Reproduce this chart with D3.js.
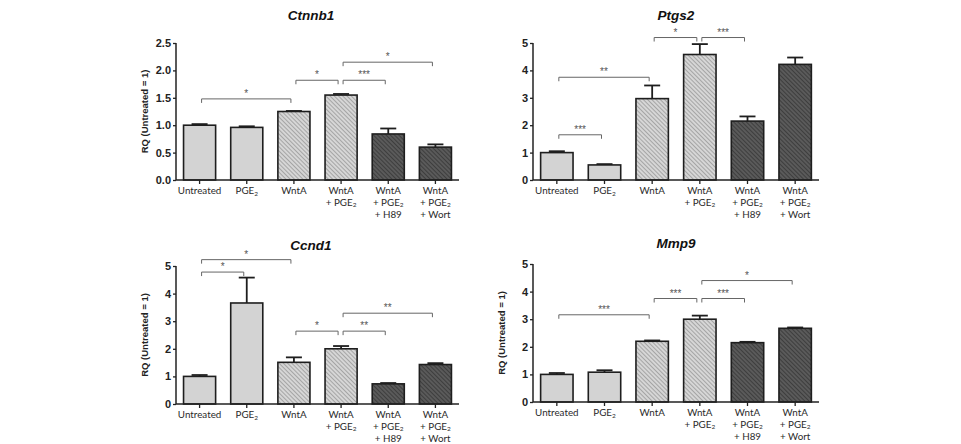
<!DOCTYPE html>
<html>
<head>
<meta charset="utf-8">
<script src="https://cdn.jsdelivr.net/npm/d3@7"></script>
<style>
  body { margin: 0; background: #fff; }
  .tick text { font-family: "Liberation Sans", Arial, sans-serif; font-weight: bold; font-size: 11px; fill: #222; }
  .xlab { font-family: Lato, sans-serif; font-size: 9.8px; fill: #2a2a2a; }
  .title { font-family: "Liberation Sans", Arial, sans-serif; font-weight: bold; font-style: italic; font-size: 13.5px; fill: #111; }
  .ylab { font-family: "Liberation Sans", Arial, sans-serif; font-weight: bold; font-size: 9.5px; fill: #222; }
  .star { font-family: "Liberation Sans", Arial, sans-serif; font-size: 10px; fill: #555; }
</style>
</head>
<body>
<script>
var w = 961;
var h = 444;

// categories (lines of each x label)
var categories = ["Untreated", "PGE2", "WntA", "WntA+PGE2", "WntA+PGE2+H89", "WntA+PGE2+Wort"];
var catLines = [
  ["Untreated"],
  ["PGE_2"],
  ["WntA"],
  ["WntA", "+ PGE_2"],
  ["WntA", "+ PGE_2", "+ H89"],
  ["WntA", "+ PGE_2", "+ Wort"]
];
var fills = ["light", "light", "hatchLight", "hatchLight", "hatchDark", "hatchDark"];

// values (mean, mean + error)
var ctnnb1    = [1.00, 0.96, 1.25, 1.55, 0.84, 0.60];
var ctnnb1Err = [1.02, 0.98, 1.26, 1.57, 0.94, 0.65];
var ptgs2     = [1.00, 0.55, 2.97, 4.58, 2.15, 4.22];
var ptgs2Err  = [1.05, 0.58, 3.45, 4.96, 2.32, 4.47];
var ccnd1     = [1.00, 3.66, 1.51, 2.00, 0.73, 1.43];
var ccnd1Err  = [1.05, 4.58, 1.69, 2.10, 0.76, 1.48];
var mmp9      = [1.00, 1.08, 2.20, 3.00, 2.15, 2.67];
var mmp9Err   = [1.05, 1.15, 2.23, 3.13, 2.18, 2.70];

// significance brackets: [from, to, level, label]
var ctnnb1Sig = [[0, 2, 1.48, "*"], [2, 3, 1.82, "*"], [3, 4, 1.82, "***"], [3, 5, 2.15, "*"]];
var ptgs2Sig  = [[0, 1, 1.65, "***"], [0, 2, 3.75, "**"], [2, 3, 5.2, "*"], [3, 4, 5.2, "***"]];
var ccnd1Sig  = [[0, 1, 4.78, "*"], [0, 2, 5.23, "*"], [2, 3, 2.64, "*"], [3, 4, 2.64, "**"], [3, 5, 3.29, "**"]];
var mmp9Sig   = [[0, 2, 3.16, "***"], [2, 3, 3.75, "***"], [3, 4, 3.75, "***"], [3, 5, 4.4, "*"]];

var ticks25 = [0, 0.5, 1.0, 1.5, 2.0, 2.5];
var ticks5  = [0, 1, 2, 3, 4, 5];

var panels = [
  {title: "Ctnnb1", vals: ctnnb1, errs: ctnnb1Err, sig: ctnnb1Sig, ticks: ticks25, max: 2.5, fmt: ".1f", x0: 176, x1: 459, y0: 180, y1: 43, tx: 311, ty: 20, ylab: true},
  {title: "Ptgs2",  vals: ptgs2,  errs: ptgs2Err,  sig: ptgs2Sig,  ticks: ticks5,  max: 5,   fmt: "d",   x0: 533, x1: 819, y0: 180, y1: 43, tx: 676, ty: 20, ylab: false},
  {title: "Ccnd1",  vals: ccnd1,  errs: ccnd1Err,  sig: ccnd1Sig,  ticks: ticks5,  max: 5,   fmt: "d",   x0: 176, x1: 459, y0: 404, y1: 266, tx: 311, ty: 250, ylab: true},
  {title: "Mmp9",   vals: mmp9,   errs: mmp9Err,   sig: mmp9Sig,   ticks: ticks5,  max: 5,   fmt: "d",   x0: 533, x1: 819, y0: 402, y1: 264, tx: 676, ty: 248, ylab: true}
];

var svg = d3.select("body")
    .append("svg")
    .attr("width", w)
    .attr("height", h);

// hatch patterns
var defs = svg.append("defs");
function hatch(id, bg, fg) {
  var p = defs.append("pattern")
      .attr("id", id)
      .attr("patternUnits", "userSpaceOnUse")
      .attr("width", 3)
      .attr("height", 3)
      .attr("patternTransform", "rotate(-45)");
  p.append("rect").attr("width", 3).attr("height", 3).attr("fill", bg);
  p.append("line").attr("x1", 0).attr("y1", 0).attr("x2", 0).attr("y2", 3)
      .attr("stroke", fg).attr("stroke-width", 1.3);
}
hatch("hatchLight", "#d6d6d6", "#8a8a8a");
hatch("hatchDark", "#5a5a5a", "#2e2e2e");
var fillOf = {light: "#d3d3d3", hatchLight: "url(#hatchLight)", hatchDark: "url(#hatchDark)"};

panels.forEach(function(p) {
  var g = svg.append("g");

  var xScale = d3.scaleBand()
      .domain(categories)
      .range([p.x0, p.x1])
      .paddingInner(0.32)
      .paddingOuter(0.16);

  var yScale = d3.scaleLinear()
      .domain([0, p.max])
      .range([p.y0, p.y1]);

  // bars
  g.selectAll("rect.bar")
      .data(p.vals)
      .enter()
      .append("rect")
      .attr("class", "bar")
      .attr("x", function(d, i) { return xScale(categories[i]); })
      .attr("y", function(d) { return yScale(d); })
      .attr("width", xScale.bandwidth())
      .attr("height", function(d) { return yScale(0) - yScale(d); })
      .attr("fill", function(d, i) { return fillOf[fills[i]]; })
      .attr("stroke", "#1e1e1e")
      .attr("stroke-width", 1.6);

  // error bars
  var cx = function(i) { return xScale(categories[i]) + xScale.bandwidth() / 2; };
  g.selectAll("line.err")
      .data(p.errs)
      .enter()
      .append("line")
      .attr("x1", function(d, i) { return cx(i); })
      .attr("x2", function(d, i) { return cx(i); })
      .attr("y1", function(d, i) { return yScale(p.vals[i]); })
      .attr("y2", function(d) { return yScale(d); })
      .attr("stroke", "#1e1e1e")
      .attr("stroke-width", 1.8);
  g.selectAll("line.cap")
      .data(p.errs)
      .enter()
      .append("line")
      .attr("x1", function(d, i) { return cx(i) - 8; })
      .attr("x2", function(d, i) { return cx(i) + 8; })
      .attr("y1", function(d) { return yScale(d); })
      .attr("y2", function(d) { return yScale(d); })
      .attr("stroke", "#1e1e1e")
      .attr("stroke-width", 1.8);

  // axes
  var yAxis = g.append("g")
      .attr("transform", "translate(" + p.x0 + ",0)")
      .call(d3.axisLeft(yScale).tickValues(p.ticks).tickFormat(d3.format(p.fmt)).tickSize(3).tickPadding(2));
  var xAxis = g.append("g")
      .attr("transform", "translate(0," + p.y0 + ")")
      .call(d3.axisBottom(xScale).tickSize(4).tickFormat(""));
  [yAxis, xAxis].forEach(function(a) {
    a.select(".domain").attr("stroke", "#222").attr("stroke-width", 1.5);
    a.selectAll(".tick line").attr("stroke", "#222").attr("stroke-width", 1.3);
  });
  xAxis.select(".domain").attr("d", "M" + p.x0 + ",0H" + p.x1);
  yAxis.select(".domain").attr("d", "M0," + p.y0 + "V" + p.y1);

  // x labels, one text per line
  catLines.forEach(function(lines, i) {
    lines.forEach(function(line, k) {
      var parts = line.split("_");
      var t = g.append("text")
          .attr("class", "xlab")
          .attr("text-anchor", "middle")
          .attr("x", cx(i))
          .attr("y", p.y0 + 14 + k * 11.8);
      t.append("tspan").text(parts[0]);
      if (parts.length > 1) {
        t.append("tspan").attr("font-size", "6.5px").attr("dy", 1.5).text(parts[1]);
      }
    });
  });

  // title
  g.append("text")
      .attr("class", "title")
      .attr("text-anchor", "middle")
      .attr("x", p.tx)
      .attr("y", p.ty)
      .text(p.title);

  // y label
  if (p.ylab) {
    g.append("text")
        .attr("class", "ylab")
        .attr("text-anchor", "middle")
        .attr("transform", "translate(" + (p.x0 - 28) + "," + ((p.y0 + p.y1) / 2) + ") rotate(-90)")
        .text("RQ (Untreated = 1)");
  }

  // significance brackets
  p.sig.forEach(function(s) {
    var xa = cx(s[0]) + 2, xb = cx(s[1]) - 3, yy = yScale(s[2]);
    g.append("path")
        .attr("d", "M" + xa + "," + (yy + 4) + "V" + yy + "H" + xb + "V" + (yy + 4))
        .attr("fill", "none")
        .attr("stroke", "#666")
        .attr("stroke-width", 1);
    g.append("text")
        .attr("class", "star")
        .attr("text-anchor", "middle")
        .attr("x", (xa + xb) / 2)
        .attr("y", yy - 2)
        .text(s[3]);
  });
});
</script>
</body>
</html>
